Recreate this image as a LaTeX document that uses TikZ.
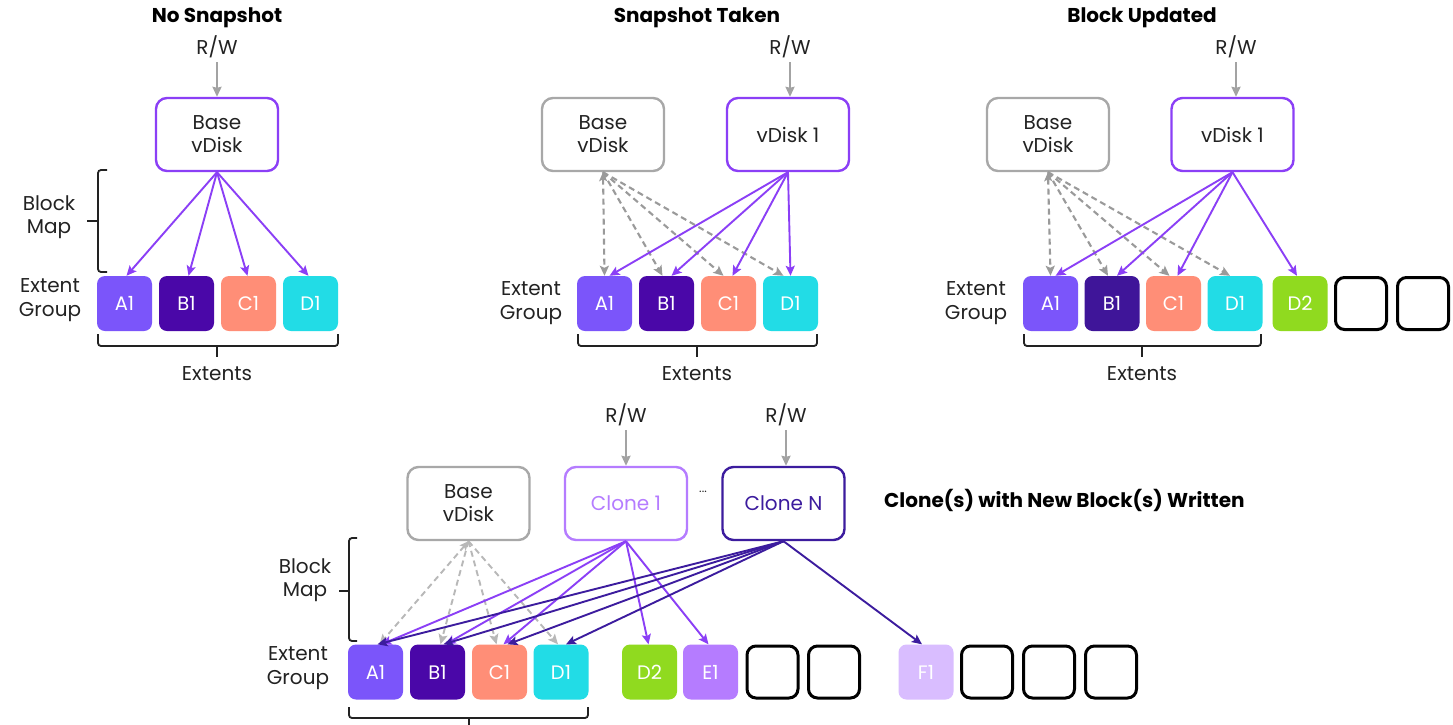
\documentclass[tikz,border=0pt]{standalone}
\usepackage{fontspec}
\setmainfont{Poppins}
\usetikzlibrary{arrows.meta}

\definecolor{ink}{HTML}{222222}
\definecolor{vio}{HTML}{8B3FF6}
\definecolor{indigo}{HTML}{3C1C9E}
\definecolor{lilac}{HTML}{B57CFF}
\definecolor{frame}{HTML}{A8A8A8}
\definecolor{rwgray}{HTML}{A3A3A3}
\definecolor{dgray}{HTML}{9A9A9A}
\definecolor{lgray}{HTML}{B8B8B8}
\definecolor{cA}{HTML}{7B55FA}
\definecolor{cB}{HTML}{4A07A8}
\definecolor{cBb}{HTML}{3F1599}
\definecolor{cC}{HTML}{FF8E77}
\definecolor{cD}{HTML}{22DCE6}
\definecolor{cG}{HTML}{90DA1F}
\definecolor{cE}{HTML}{B57CFF}
\definecolor{cF}{HTML}{D9BDFF}

\tikzset{
  lbl/.style={font=\fontsize{20}{23.5}\selectfont, text=ink, align=center, inner sep=0pt},
  ttl/.style={font=\fontsize{20}{22}\selectfont\bfseries, text=black, inner sep=0pt},
  disk/.style={draw, line width=2.4pt, rounded corners=11pt, minimum width=122pt,
    minimum height=73pt, fill=white, align=center, inner sep=0pt,
    font=\fontsize{20}{23}\selectfont, text=ink},
  ext/.style={rounded corners=8pt, minimum width=55pt, minimum height=55pt,
    inner sep=0pt, text=white, font=\fontsize{19.5}{20}\selectfont},
  slot/.style={draw=black, line width=3pt, rounded corners=9pt, minimum width=51pt,
    minimum height=52pt, inner sep=0pt},
  rw/.style={draw=rwgray, line width=2pt, shorten <=4pt, -{Stealth[length=10pt,width=9pt,inset=1pt]}},
  lnk/.style={line width=1.9pt, -{Stealth[length=10pt,width=9pt,inset=2pt]}},
  dsh/.style={draw=dgray, line width=2.1pt, dash pattern=on 6pt off 4pt,
    -{Stealth[length=10pt,width=9pt,inset=2pt]}},
  dshl/.style={draw=lgray, line width=1.9pt, dash pattern=on 6pt off 4pt,
    -{Stealth[length=10pt,width=9pt,inset=2pt]}},
  brk/.style={draw=ink, line width=1.8pt, rounded corners=3pt},
}

\begin{document}
\begin{tikzpicture}[x=1pt,y=-1pt]
\useasboundingbox (0,0) rectangle (1453,724);
\fill[white] (0,0) rectangle (1453,724);

% ---------------- No Snapshot ----------------
\node[ttl] (t1) at (217,18) {No Snapshot};
\node[lbl] (rw1) at (217,47) {R/W};
\node[disk, draw=vio] (base1) at (217,134.5) {Base\\vDisk};
\draw[rw] (rw1) -- (base1);
\node[lbl] (bm1) at (49,217) {Block\\Map};
\node[lbl] (eg1) at (50,300) {Extent\\Group};
\node[ext, fill=cA] (a1) at (124.5,303.5) {A1};
\node[ext, fill=cB] (b1) at (186.5,303.5) {B1};
\node[ext, fill=cC] (c1) at (248.5,303.5) {C1};
\node[ext, fill=cD] (d1) at (310.5,303.5) {D1};
\draw[lnk, vio] (base1.south) -- ([xshift=2pt]a1.north);
\draw[lnk, vio] (base1.south) -- ([xshift=2pt]b1.north);
\draw[lnk, vio] (base1.south) -- ([xshift=-1pt]c1.north);
\draw[lnk, vio] (base1.south) -- ([xshift=-2pt]d1.north);
\draw[brk] (107,170) -- (98,170) -- (98,272) -- (107,272);
\draw[brk] (98,221) -- (87,221);
\draw[brk] (98,334) -- (98,346) -- (338,346) -- (338,334);
\draw[brk] (217,346) -- (217,357);
\node[lbl] (ex1) at (217,374) {Extents};

% ---------------- Snapshot Taken ----------------
\node[ttl] (t2) at (697,18) {Snapshot Taken};
\node[lbl] (rw2) at (790,47) {R/W};
\node[disk, draw=frame] (base2) at (603,134.5) {Base\\vDisk};
\node[disk, draw=vio] (vd2) at (788,134.5) {vDisk 1};
\draw[rw] (rw2) -- (rw2 |- vd2.north);
\node[lbl] (eg2) at (531,303) {Extent\\Group};
\node[ext, fill=cA] (a2) at (604.5,303.5) {A1};
\node[ext, fill=cB] (b2) at (666.5,303.5) {B1};
\node[ext, fill=cC] (c2) at (728.5,303.5) {C1};
\node[ext, fill=cD] (d2) at (790.5,303.5) {D1};
\draw[dsh, {Stealth[length=9pt,width=8pt,inset=2pt]}-{Stealth[length=10pt,width=9pt,inset=2pt]}]
  (base2.south) -- ([xshift=0pt]a2.north);
\draw[dsh] (base2.south) -- ([xshift=-4pt]b2.north);
\draw[dsh] (base2.south) -- ([xshift=-5pt]c2.north);
\draw[dsh] (base2.south) -- ([xshift=-7pt]d2.north);
\draw[lnk, vio] (vd2.south) -- ([xshift=5pt]a2.north);
\draw[lnk, vio] (vd2.south) -- ([xshift=5pt]b2.north);
\draw[lnk, vio] (vd2.south) -- ([xshift=4pt]c2.north);
\draw[lnk, vio] (vd2.south) -- ([xshift=0pt]d2.north);
\draw[brk] (578,334) -- (578,346) -- (817,346) -- (817,334);
\draw[brk] (697,346) -- (697,357);
\node[lbl] (ex2) at (697,374) {Extents};

% ---------------- Block Updated ----------------
\node[ttl] (t3) at (1142,18) {Block Updated};
\node[lbl] (rw3) at (1236,47) {R/W};
\node[disk, draw=frame] (base3) at (1048,134.5) {Base\\vDisk};
\node[disk, draw=vio] (vd3) at (1232.5,134.5) {vDisk 1};
\draw[rw] (rw3) -- (rw3 |- vd3.north);
\node[lbl] (eg3) at (976,303) {Extent\\Group};
\node[ext, fill=cA] (a3) at (1050.5,303.5) {A1};
\node[ext, fill=cBb] (b3) at (1112,303.5) {B1};
\node[ext, fill=cC] (c3) at (1173.5,303.5) {C1};
\node[ext, fill=cD] (d3) at (1235,303.5) {D1};
\node[ext, fill=cG] (e3) at (1300,303.5) {D2};
\node[slot] (s31) at (1361,303.5) {};
\node[slot] (s32) at (1423,303.5) {};
\draw[dsh, {Stealth[length=9pt,width=8pt,inset=2pt]}-{Stealth[length=10pt,width=9pt,inset=2pt]}]
  (base3.south) -- ([xshift=0pt]a3.north);
\draw[dsh] (base3.south) -- ([xshift=-4pt]b3.north);
\draw[dsh] (base3.south) -- ([xshift=-4pt]c3.north);
\draw[dsh] (base3.south) -- ([xshift=-5pt]d3.north);
\draw[lnk, vio] (vd3.south) -- ([xshift=5pt]a3.north);
\draw[lnk, vio] (vd3.south) -- ([xshift=5pt]b3.north);
\draw[lnk, vio] (vd3.south) -- ([xshift=4pt]c3.north);
\draw[lnk, vio] (vd3.south) -- ([xshift=-3pt]e3.north);
\draw[brk] (1024,334) -- (1024,346) -- (1261,346) -- (1261,334);
\draw[brk] (1142,346) -- (1142,357);
\node[lbl] (ex3) at (1142,374) {Extents};

% ---------------- Clones ----------------
\node[ttl, anchor=west] (t4) at (884,500) {Clone(s) with New Block(s) Written};
\node[lbl] (rw4) at (626,415) {R/W};
\node[lbl] (rw5) at (786,415) {R/W};
\node[disk, draw=frame] (base4) at (468.5,503.5) {Base\\vDisk};
\node[disk, draw=lilac, text=lilac] (cl1) at (626,503.5) {Clone 1};
\node[disk, draw=indigo, text=indigo] (cln) at (783.5,503.5) {Clone N};
\node[lbl, font=\fontsize{12}{12}\selectfont] (dots) at (703,492) {...};
\draw[rw] (rw4) -- (rw4 |- cl1.north);
\draw[rw] (rw5) -- (rw5 |- cln.north);
\node[lbl] (bm4) at (305,580) {Block\\Map};
\node[lbl] (eg4) at (298,668) {Extent\\Group};
\node[ext, fill=cA] (a4) at (375.5,672) {A1};
\node[ext, fill=cB] (b4) at (437.5,672) {B1};
\node[ext, fill=cC] (c4) at (499.5,672) {C1};
\node[ext, fill=cD] (d4) at (561,672) {D1};
\node[ext, fill=cG] (g4) at (649.5,672) {D2};
\node[ext, fill=cE] (e4) at (710.5,672) {E1};
\node[slot] (s41) at (772.5,672) {};
\node[slot] (s42) at (834,672) {};
\node[ext, fill=cF] (f4) at (926,672) {F1};
\node[slot] (s43) at (987,672) {};
\node[slot] (s44) at (1049,672) {};
\node[slot] (s45) at (1111,672) {};
\draw[dshl, {Stealth[length=9pt,width=8pt,inset=2pt]}-{Stealth[length=10pt,width=9pt,inset=2pt]}]
  (base4.south) -- ([xshift=4pt]a4.north);
\draw[dshl] (base4.south) -- ([xshift=3pt]b4.north);
\draw[dshl] (base4.south) -- ([xshift=-3pt]c4.north);
\draw[dshl] (base4.south) -- ([xshift=-3pt]d4.north);
\draw[lnk, vio] (cl1.south) -- ([xshift=6pt]a4.north);
\draw[lnk, vio] (cl1.south) -- ([xshift=8pt]b4.north);
\draw[lnk, vio] (cl1.south) -- ([xshift=4pt]c4.north);
\draw[lnk, vio] (cl1.south) -- ([xshift=-1pt]g4.north);
\draw[lnk, vio] (cl1.south) -- ([xshift=-2pt]e4.north);
\draw[lnk, indigo] (cln.south) -- ([xshift=2pt]a4.north);
\draw[lnk, indigo] (cln.south) -- ([xshift=6pt]b4.north);
\draw[lnk, indigo] (cln.south) -- ([xshift=8pt]c4.north);
\draw[lnk, indigo] (cln.south) -- ([xshift=5pt]d4.north);
\draw[lnk, indigo] (cln.south) -- ([xshift=-4pt]f4.north);
\draw[brk] (357,538) -- (349,538) -- (349,641) -- (357,641);
\draw[brk] (349,591) -- (339,591);
\draw[brk] (349,707) -- (349,718) -- (588,718) -- (588,707);
\draw[brk] (469,718) -- (469,730);
\end{tikzpicture}
\end{document}
